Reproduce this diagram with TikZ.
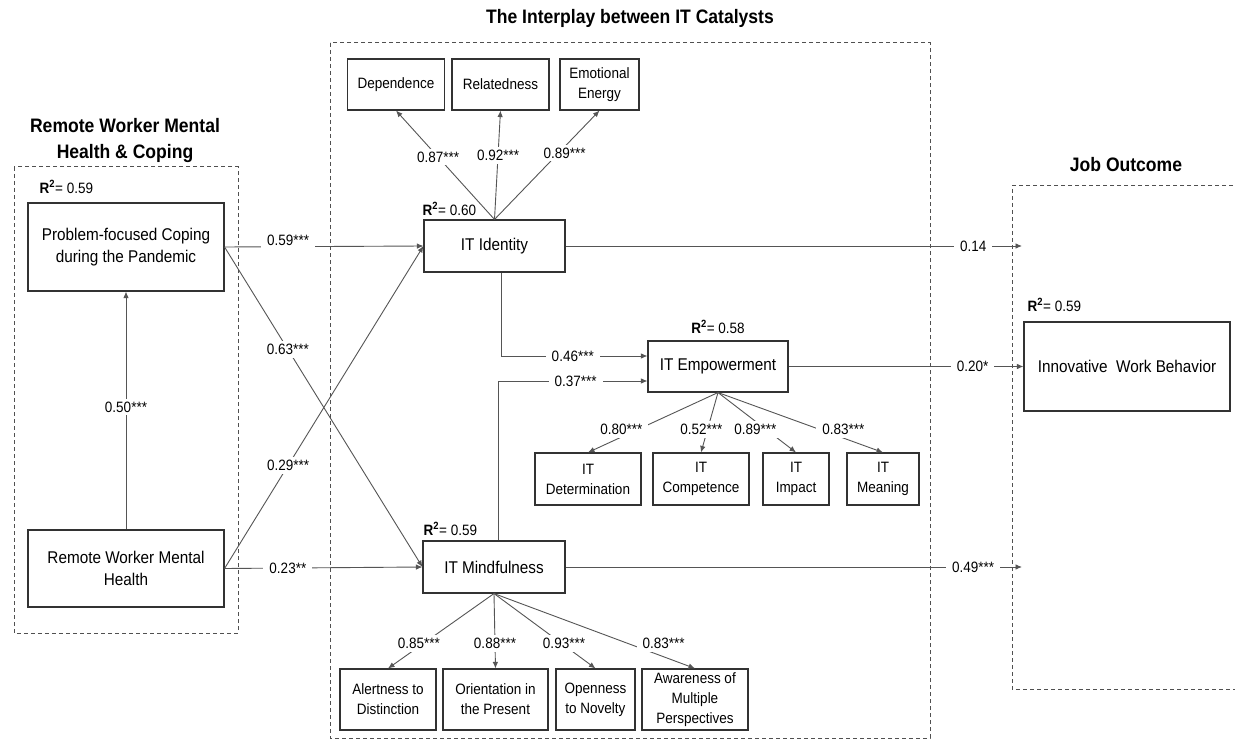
\documentclass[tikz,border=0pt]{standalone}
\usepackage{fontspec}
\setmainfont[FakeStretch=0.9]{Liberation Sans}
\usetikzlibrary{arrows.meta,calc}
\definecolor{ln}{RGB}{85,85,85}
\definecolor{bx}{RGB}{50,50,50}
\definecolor{dsh}{RGB}{80,80,80}
\begin{document}
\begin{tikzpicture}[x=1pt,y=-1pt,
  box/.style={draw=bx, line width=1.1pt, inner sep=0pt, align=center, font=\fontsize{17}{22}\selectfont},
  sbox/.style={draw=bx, line width=1.1pt, inner sep=0pt, align=center, font=\fontsize{15}{20}\selectfont},
  conn/.style={draw=ln, line width=0.9pt, -{Latex[length=6.5pt,width=5.5pt]}},
  lbl/.style={fill=white, inner xsep=6pt, inner ysep=3pt, font=\fontsize{15}{18}\selectfont, text=black},
  rsq/.style={inner sep=0pt, font=\fontsize{15}{18}\selectfont},
  ttl/.style={font=\fontsize{19.5}{26}\selectfont\bfseries, align=center},
  grp/.style={draw=dsh, line width=1pt, dash pattern=on 4pt off 3pt}]
\path[use as bounding box, fill=white] (0,0) rectangle (1235,741);

% groups
\draw[grp] (14,167) rectangle (238,633);
\draw[grp] (330,43) rectangle (930,738);
\draw[grp] (1240,186) -- (1012,186) -- (1012,689) -- (1240,689);

% titles
\node[ttl] (t1) at (125,141) {Remote Worker Mental\\Health \& Coping};
\node[ttl] (t2) at (630,18) {The Interplay between IT Catalysts};
\node[ttl] (t3) at (1126,165) {Job Outcome};

% main nodes
\node[box, minimum width=196pt, minimum height=88pt] (pfc) at (126,247) {Problem-focused Coping\\during the Pandemic};
\node[box, minimum width=196pt, minimum height=77pt] (rwmh) at (126,568.5) {Remote Worker Mental\\Health};
\node[box, minimum width=141pt, minimum height=52pt] (iti) at (494.5,246) {IT Identity};
\node[box, minimum width=140pt, minimum height=51pt] (ite) at (718,366.5) {IT Empowerment};
\node[box, minimum width=142pt, minimum height=52pt] (itm) at (494,567) {IT Mindfulness};
\node[box, minimum width=206pt, minimum height=89pt] (iwb) at (1127,366.5) {Innovative~ Work Behavior};

% indicator nodes
\node[sbox, minimum width=97pt, minimum height=51pt] (dep) at (396,84.5) {Dependence};
\node[sbox, minimum width=97pt, minimum height=51pt] (rel) at (500.5,84.5) {Relatedness};
\node[sbox, minimum width=79pt, minimum height=51pt] (emo) at (599.5,84.5) {Emotional\\Energy};

\node[sbox, minimum width=106pt, minimum height=52pt] (det) at (588,479) {IT\\Determination};
\node[sbox, minimum width=96pt, minimum height=52pt] (com) at (701,479) {IT\\Competence};
\node[sbox, minimum width=66pt, minimum height=52pt] (imp) at (796,479) {IT\\Impact};
\node[sbox, minimum width=72pt, minimum height=52pt] (mea) at (883,479) {IT\\Meaning};

\node[sbox, minimum width=96pt, minimum height=61pt] (ale) at (388,699.5) {Alertness to\\Distinction};
\node[sbox, minimum width=105pt, minimum height=61pt] (ori) at (495.5,699.5) {Orientation in\\the Present};
\node[sbox, minimum width=79pt, minimum height=61pt] (ope) at (595.5,699.5) {Openness\\to Novelty};
\node[sbox, minimum width=106pt, minimum height=61pt] (awa) at (695,699.5) {Awareness of\\Multiple\\Perspectives};

% R squared
\node[rsq, anchor=south west] (r1) at ($(pfc.north west)+(12,-9)$) {\textbf{R\textsuperscript{2}}= 0.59};
\node[rsq, anchor=south west] (r2) at ($(iti.north west)+(-1,-4)$) {\textbf{R\textsuperscript{2}}= 0.60};
\node[rsq, anchor=south] (r3) at ($(ite.north)+(0,-7)$) {\textbf{R\textsuperscript{2}}= 0.58};
\node[rsq, anchor=south west] (r4) at ($(itm.north west)+(1,-5)$) {\textbf{R\textsuperscript{2}}= 0.59};
\node[rsq, anchor=south west] (r5) at ($(iwb.north west)+(4,-10)$) {\textbf{R\textsuperscript{2}}= 0.59};

% coordinates for open arrow ends
\coordinate (o1) at (1022,246);
\coordinate (o3) at (1022,567);

% structural paths
\draw[conn] (rwmh) -- node[lbl,pos=0.515]{0.50***} (pfc);
\draw[conn] (pfc.east) -- node[lbl,pos=0.32]{0.63***} (itm.west);
\draw[conn] (rwmh.east) -- node[lbl,pos=0.32]{0.29***} (iti.west);
\draw[conn] (pfc.east) -- node[lbl,pos=0.32,yshift=6pt]{0.59***} (iti.west);
\draw[conn] (rwmh.east) -- node[lbl,pos=0.32]{0.23**} (itm.west);

\draw[conn] ($(iti.south)+(6.5,0)$) |- node[lbl,pos=0.745]{0.46***} ($(ite.west)+(0,-10.5)$);
\draw[conn] ($(itm.north)+(4,0)$) |- node[lbl,pos=0.76]{0.37***} ($(ite.west)+(0,14.5)$);

\draw[conn] (iti.east) -- node[lbl,pos=0.893]{0.14} (o1);
\draw[conn] (ite.east) -- node[lbl,pos=0.784]{0.20*} (iwb.west);
\draw[conn] (itm.east) -- node[lbl,pos=0.893]{0.49***} (o3);

% measurement paths
\draw[conn] (iti.north) -- node[lbl,pos=0.573]{0.87***} (dep.south);
\draw[conn] (iti.north) -- node[lbl,pos=0.59]{0.92***} (rel.south);
\draw[conn] (iti.north) -- node[lbl,pos=0.61,xshift=6pt]{0.89***} (emo.south);

\draw[conn] (ite.south) -- node[lbl,pos=0.62,xshift=-16pt]{0.80***} (det.north);
\draw[conn] (ite.south) -- node[lbl,pos=0.62,xshift=-6pt]{0.52***} (com.north);
\draw[conn] (ite.south) -- node[lbl,pos=0.62,xshift=-11pt]{0.89***} (imp.north);
\draw[conn] (ite.south) -- node[lbl,pos=0.62,xshift=23pt]{0.83***} (mea.north);

\draw[conn] (itm.south) -- node[lbl,pos=0.67,xshift=-4pt]{0.85***} (ale.north);
\draw[conn] (itm.south) -- node[lbl,pos=0.67]{0.88***} (ori.north);
\draw[conn] (itm.south) -- node[lbl,pos=0.67,xshift=2pt]{0.93***} (ope.north);
\draw[conn] (itm.south) -- node[lbl,pos=0.67,xshift=35pt]{0.83***} (awa.north);
\end{tikzpicture}
\end{document}
